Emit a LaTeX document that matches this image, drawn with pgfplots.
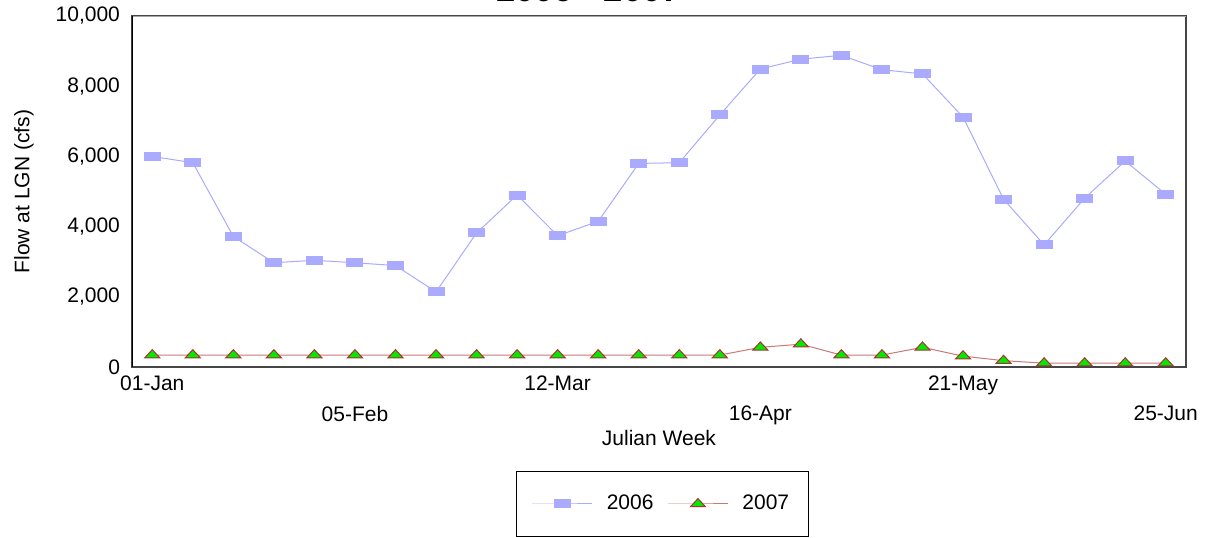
\documentclass[border=0pt]{standalone}
\usepackage{fontspec}
\setmainfont{Liberation Sans}
\usepackage{pgfplots}
\pgfplotsset{compat=1.18}

\definecolor{c06}{RGB}{170,170,255}
\definecolor{c07line}{RGB}{200,120,120}
\definecolor{c07edge}{RGB}{170,50,50}
\definecolor{c07fill}{RGB}{0,235,0}
\definecolor{frame}{RGB}{70,70,70}

\newcommand{\chartfont}{\fontsize{10.5}{12.5}\selectfont}

\begin{document}
\begin{tikzpicture}
\begin{axis}[
    at={(66pt,85pt)}, anchor=south west,
    scale only axis,
    width=527pt, height=175.5pt,
    xmin=0.5, xmax=26.5,
    ymin=0, ymax=10000,
    /pgf/number format/assume math mode=true,
    xtick={1,11,21},
    xticklabels={01-Jan,12-Mar,21-May},
    extra x ticks={6,16,26},
    extra x tick labels={05-Feb,16-Apr,25-Jun},
    extra x tick style={xticklabel style={yshift=-15pt}},
    xticklabel style={yshift=-1pt},
    ytick={0,2000,4000,6000,8000,10000},
    scaled y ticks=false,
    yticklabel style={/pgf/number format/fixed, /pgf/number format/1000 sep={,}, xshift=-2.5pt},
    major tick length=0pt,
    tick label style={font=\chartfont},
    axis line style={draw=frame, line width=0.6pt},
    xlabel={Julian Week},
    ylabel={Flow at LGN (cfs)},
    label style={font=\chartfont},
    xlabel style={at={(axis description cs:0.5,-0.2023)}, anchor=center},
    ylabel style={at={(axis description cs:-0.1025,0.5)}, anchor=center},
    legend columns=2,
    legend style={at={(axis description cs:0.5033,-0.3903)}, anchor=center,
        draw=black, line width=0.5pt, font=\chartfont,
        inner xsep=7.5pt, inner ysep=10pt,
        /tikz/column sep=5pt},
    legend image code/.code={
        \draw[mark repeat=2, mark phase=2, #1]
            plot coordinates {(0pt,0pt) (15pt,0pt) (30pt,0pt)};},
]
\addplot[c06, line width=0.5pt, mark=square*,
    mark options={fill=c06, draw=c06, xscale=2}, mark size=2pt]
coordinates {
(1,6000) (2,5820) (3,3720) (4,2970) (5,3040) (6,2970) (7,2890) (8,2140)
(9,3820) (10,4900) (11,3740) (12,4150) (13,5800) (14,5820) (15,7180)
(16,8490) (17,8770) (18,8880) (19,8470) (20,8350) (21,7120) (22,4780)
(23,3480) (24,4810) (25,5870) (26,4920)
};
\addlegendentry{2006}
\addplot[c07line, line width=0.5pt, mark=triangle*,
    mark options={fill=c07fill, draw=c07edge, xscale=1.6}, mark size=2.7pt]
coordinates {
(1,340) (2,340) (3,340) (4,340) (5,340) (6,340) (7,340) (8,340)
(9,340) (10,340) (11,340) (12,340) (13,340) (14,340) (15,340)
(16,560) (17,650) (18,340) (19,340) (20,560) (21,310) (22,180)
(23,110) (24,110) (25,110) (26,110)
};
\addlegendentry{2007}
\draw[gray!70, line width=0.8pt] (rel axis cs:0,1) -- (rel axis cs:1,1);
\draw[black, line width=0.6pt] (rel axis cs:0,0) -- (rel axis cs:0,1);
\end{axis}
\node[anchor=base, font=\bfseries\fontsize{17.3}{20}\selectfont]
    at (294.25pt,267.5pt) {2006 - 2007};
\pgfresetboundingbox
\useasboundingbox (0,0) rectangle (606pt,268.5pt);
\end{tikzpicture}
\end{document}
